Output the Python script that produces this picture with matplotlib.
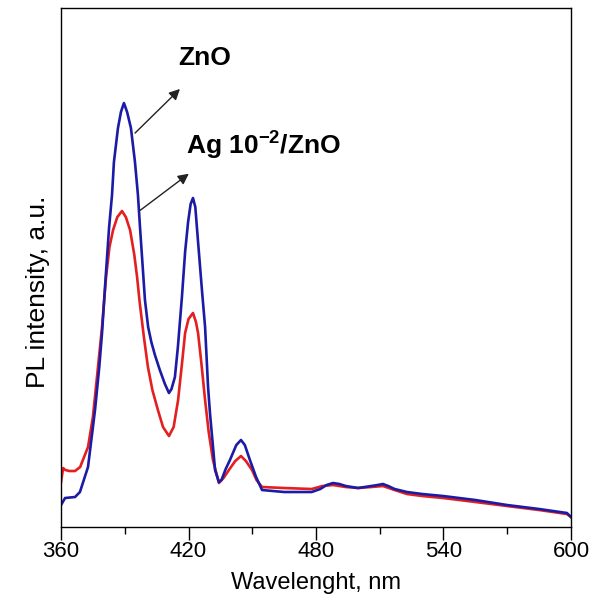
import matplotlib.pyplot as plt
from matplotlib.ticker import MultipleLocator

# data (wavelength in nm, intensity in a.u.)
wl_zno = [360, 361.9, 366.6, 368.9, 372.7, 376, 378, 379.3, 380.7, 382.6,
          384, 384.9, 386.8, 388.2, 389.6, 391.1, 392.9, 394.8, 396.2, 397.2,
          399.5, 401, 402.5, 404.2, 406.5, 408.9, 410.8, 412, 413.6, 415,
          416.9, 418.4, 419.8, 421, 422.1, 423.2, 424.5, 426.4, 427.8, 429.2,
          430.1, 432.5, 434.3, 435.5, 437.5, 439.5, 442.5, 444.7, 446.5, 448.9,
          451.8, 454.6, 465, 478, 482, 485, 488, 491, 494, 499.8,
          506, 509, 511.5, 514, 517, 522.8, 530, 539.8, 555, 569.9,
          585, 598.1, 600]
pl_zno = [22, 29, 30, 35, 60, 117, 160, 194, 240, 299,
          332, 365, 399, 415, 424, 415, 399, 365, 332, 299,
          227, 200, 185, 172, 157, 143, 134, 138, 150, 180,
          230, 275, 305, 323, 329, 320, 285, 235, 200, 140,
          114, 57, 45, 47, 58, 67, 82, 87, 82, 67,
          50, 37, 35, 35, 38, 42, 44, 43, 41, 39,
          41, 42, 43, 41, 38, 35, 33, 31, 27, 22,
          18, 14, 10]

wl_ag = [360, 361, 362, 364, 366.6, 369, 372.7, 375, 377.4, 379.3,
         381.2, 382.8, 384.5, 386.5, 388.7, 390.5, 392.5, 394.5, 395.8, 397,
         399, 400.9, 403, 405.6, 408, 410.8, 413, 415.1, 417, 418.4,
         420, 422.1, 423.5, 424.5, 426, 427.8, 429.5, 431.5, 434.3, 436.5,
         439, 442, 444.7, 447, 449.9, 452, 454.6, 465, 478, 483,
         488, 494, 499.8, 506, 511.5, 517, 522.8, 530, 539.8, 555,
         569.9, 585, 598.1, 600]
pl_ag = [45, 59, 57, 56, 56, 60, 80, 110, 160, 200,
         250, 280, 297, 310, 316, 310, 297, 272, 250, 225,
         190, 160, 137, 117, 100, 91, 100, 127, 165, 194,
         208, 214, 205, 194, 165, 127, 95, 67, 44, 49,
         57, 66, 71, 66, 57, 47, 40, 39, 38, 41,
         42, 40, 39, 40, 41, 37, 33, 31, 29, 25,
         21, 17, 13, 10]

x_ticks = [360, 420, 480, 540, 600]

plt.rcParams["font.family"] = ["Liberation Sans", "DejaVu Sans"]
plt.rcParams["mathtext.fontset"] = "custom"
plt.rcParams["mathtext.rm"] = "Liberation Sans"
plt.rcParams["mathtext.bf"] = "Liberation Sans:bold"

fig = plt.figure(figsize=(5.89, 6.08), dpi=100)
ax = fig.add_axes([0.1036, 0.1332, 0.8658, 0.8536])

ax.plot(wl_ag, pl_ag, color="#e41f1f", lw=1.9)
ax.plot(wl_zno, pl_zno, color="#1b1ba6", lw=1.9)

ax.set_xlim(360, 600)
ax.set_ylim(0, 519)
ax.set_xticks(x_ticks)
ax.xaxis.set_minor_locator(MultipleLocator(30))
ax.tick_params(axis="x", which="major", direction="out", length=9, width=1,
               labelsize=16, pad=1)
ax.tick_params(axis="x", which="minor", direction="out", length=5, width=1)
ax.set_yticks([])
for s in ax.spines.values():
    s.set_linewidth(1)

ax.set_xlabel("Wavelenght, nm", fontsize=17, labelpad=7)
ax.set_ylabel("PL intensity, a.u.", fontsize=19)
ax.yaxis.set_label_coords(-0.0216, 0.453)

# labels with arrows
ax.annotate("", xy=(416.9, 440), xytext=(393.9, 392),
            arrowprops=dict(arrowstyle="-|>", color="#222222", lw=1,
                            mutation_scale=16))
ax.annotate("", xy=(421.2, 355), xytext=(396.2, 315),
            arrowprops=dict(arrowstyle="-|>", color="#222222", lw=1,
                            mutation_scale=16))
ax.text(415.1, 469, "ZnO", fontsize=19, fontweight="bold", va="center")
ax.text(418.8, 382, r"Ag 10$^{\mathbf{-2}}$/ZnO", fontsize=19,
        fontweight="bold", va="center")

fig.savefig("out.png", dpi=100)
